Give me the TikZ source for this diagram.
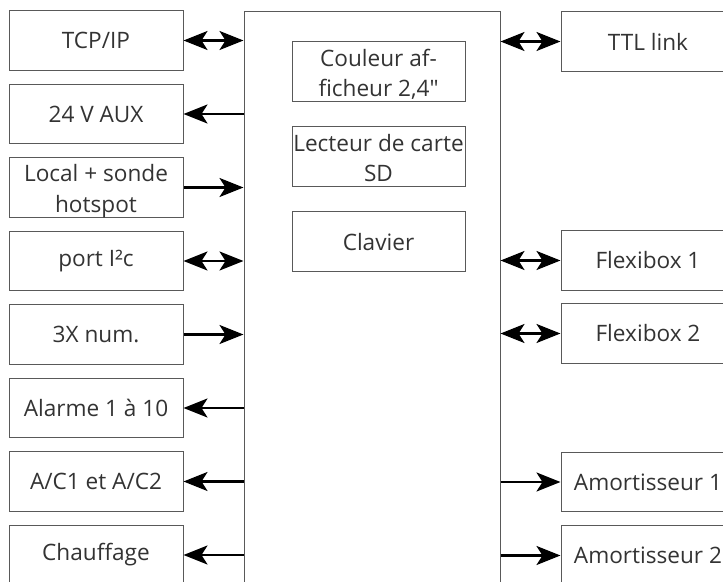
\documentclass[tikz,border=0pt]{standalone}
\usepackage{fontspec}
\setmainfont{Open Sans}
\usetikzlibrary{arrows.meta}

\begin{document}
\begin{tikzpicture}[x=0.5pt,y=-0.5pt,
	pointe/.tip={Stealth[length=12pt,width=9.5pt,inset=3pt]},>=pointe,
	bloc/.style={draw=black!65,line width=0.5pt,minimum width=87pt,minimum height=29.75pt,%
		inner sep=0pt,align=center,text=black!80,font=\fontsize{11.3}{15.3}\selectfont},
	deux/.style={text height=27.3pt,text depth=2.3pt},
	fl/.style={line width=1.1pt}]
	\clip (0,0) rectangle (723,582);
	\node[bloc,minimum width=128pt,minimum height=300pt] (ctrl) at (372,312) {};
	% colonne gauche
	\node[bloc] (tcp) at (96,40.5) {TCP/IP};
	\node[bloc] (aux) at (96,114) {24 V AUX};
	\node[bloc,deux] (local) at (96,187.5) {Local + sonde\\hotspot};
	\node[bloc] (portc) at (96,261) {port I²c};
	\node[bloc] (num) at (96,334.5) {3X num.};
	\node[bloc] (alarme) at (96,408) {Alarme 1 à 10};
	\node[bloc] (ac) at (96,481.5) {A/C1 et A/C2};
	\node[bloc] (chauf) at (96,555) {Chauffage};
	% carte
	\node[bloc,deux,minimum width=86.5pt,minimum height=30pt] (ecran) at (378.5,72) {Couleur af-\\ficheur 2,4″};
	\node[bloc,deux,minimum width=86.5pt,minimum height=30pt] (sd) at (378.5,157) {Lecteur de carte\\SD};
	\node[bloc,minimum width=86.5pt,minimum height=30pt] (clavier) at (378.5,242) {Clavier};
	% colonne droite
	\node[bloc] (ttl) at (648,41.5) {TTL link};
	\node[bloc] (flexa) at (648,260.5) {Flexibox 1};
	\node[bloc] (flexb) at (648,333.5) {Flexibox 2};
	\node[bloc] (amorta) at (648,482) {Amortisseur 1};
	\node[bloc] (amortb) at (648,555.5) {Amortisseur 2};
	
	\draw[fl,<->] (tcp.east) -- (tcp.east -| ctrl.west);
	\draw[fl,<-] (aux.east) -- (aux.east -| ctrl.west);
	\draw[fl,->] (local.east) -- (local.east -| ctrl.west);
	\draw[fl,<->] (portc.east) -- (portc.east -| ctrl.west);
	\draw[fl,->] (num.east) -- (num.east -| ctrl.west);
	\draw[fl,<-] (alarme.east) -- (alarme.east -| ctrl.west);
	\draw[fl,<-] (ac.east) -- (ac.east -| ctrl.west);
	\draw[fl,<-] (chauf.east) -- (chauf.east -| ctrl.west);
	\draw[fl,<->] (ttl.west -| ctrl.east) -- (ttl.west);
	\draw[fl,<->] (flexa.west -| ctrl.east) -- (flexa.west);
	\draw[fl,<->] (flexb.west -| ctrl.east) -- (flexb.west);
	\draw[fl,->] (amorta.west -| ctrl.east) -- (amorta.west);
	\draw[fl,->] (amortb.west -| ctrl.east) -- (amortb.west);
	
\end{tikzpicture}
\end{document}
